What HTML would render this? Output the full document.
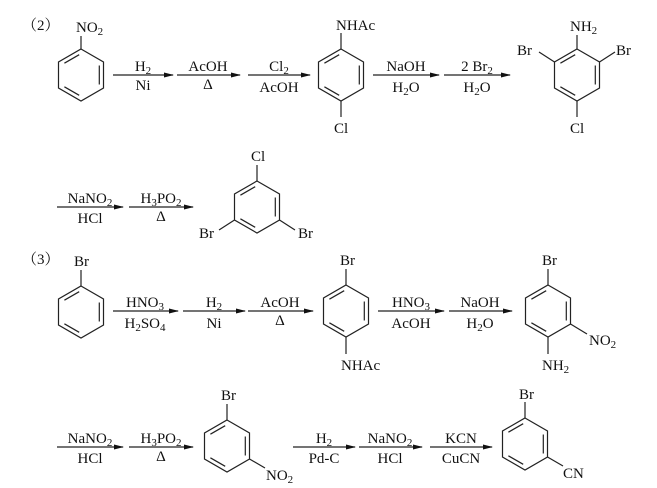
<!DOCTYPE html>
<html><head><meta charset="utf-8"><style>
html,body{margin:0;padding:0;background:#fff;}
svg{display:block;}
svg text{font-family:"Liberation Serif","Times New Roman",Times,"Noto Serif CJK SC",serif;font-size:15px;fill:#111;}
.c{text-anchor:middle;}
</style></head><body>
<svg width="657" height="488" viewBox="0 0 657 488" xmlns="http://www.w3.org/2000/svg" font-family="Liberation Serif, Times New Roman, serif">
<defs>
<symbol id="bz" overflow="visible">
<g stroke="#222" stroke-width="1.2" fill="none">
<polygon points="0,-26 22.5,-13 22.5,13 0,26 -22.5,13 -22.5,-13"/>
<line x1="18.3" y1="-9.5" x2="18.3" y2="9.5"/>
<line x1="-1.8" y1="20.3" x2="-16.6" y2="11.8"/>
<line x1="-16.6" y1="-11.8" x2="-1.8" y2="-20.3"/>
</g>
</symbol>
<marker id="ah" markerWidth="10" markerHeight="6" refX="9" refY="3" orient="auto" markerUnits="userSpaceOnUse">
<path d="M0,0.5 L10,3 L0,5.5 Z" fill="#111"/>
</marker>
</defs>
<g stroke="#222" stroke-width="1.2" marker-end="url(#ah)">
<line x1="113" y1="75" x2="173" y2="75"/>
<line x1="177" y1="75" x2="240" y2="75"/>
<line x1="248" y1="75" x2="310" y2="75"/>
<line x1="373" y1="75" x2="439" y2="75"/>
<line x1="444" y1="75" x2="510" y2="75"/>
<line x1="57" y1="207" x2="123" y2="207"/>
<line x1="129" y1="207" x2="193" y2="207"/>
<line x1="113" y1="311" x2="178" y2="311"/>
<line x1="183" y1="311" x2="245" y2="311"/>
<line x1="248" y1="311" x2="313" y2="311"/>
<line x1="378" y1="311" x2="444" y2="311"/>
<line x1="449" y1="311" x2="512" y2="311"/>
<line x1="57" y1="447" x2="123" y2="447"/>
<line x1="129" y1="447" x2="193" y2="447"/>
<line x1="293" y1="447" x2="355" y2="447"/>
<line x1="359" y1="447" x2="422" y2="447"/>
<line x1="430" y1="447" x2="492" y2="447"/>
</g>
<use href="#bz" x="81" y="75"/>
<use href="#bz" x="341" y="75"/>
<use href="#bz" x="577" y="75"/>
<use href="#bz" x="257" y="207"/>
<use href="#bz" x="81" y="312"/>
<use href="#bz" x="346" y="311"/>
<use href="#bz" x="548" y="311"/>
<use href="#bz" x="227" y="446"/>
<use href="#bz" x="525" y="444"/>
<g stroke="#222" stroke-width="1.2">
<line x1="81" y1="49" x2="81" y2="36"/>
<line x1="341" y1="49" x2="341" y2="33"/>
<line x1="341" y1="101" x2="341" y2="117"/>
<line x1="577" y1="49" x2="577" y2="35"/>
<line x1="554.5" y1="62" x2="539" y2="52"/>
<line x1="599.5" y1="62" x2="615" y2="52"/>
<line x1="577" y1="101" x2="577" y2="117"/>
<line x1="257" y1="181" x2="257" y2="165"/>
<line x1="234.5" y1="220" x2="219" y2="230"/>
<line x1="279.5" y1="220" x2="295" y2="230"/>
<line x1="81" y1="286" x2="81" y2="270"/>
<line x1="346" y1="285" x2="346" y2="269"/>
<line x1="346" y1="337" x2="346" y2="354"/>
<line x1="548" y1="285" x2="548" y2="269"/>
<line x1="570.5" y1="324" x2="587" y2="334"/>
<line x1="548" y1="337" x2="548" y2="354"/>
<line x1="227" y1="420" x2="227" y2="404"/>
<line x1="249.5" y1="459" x2="265" y2="468"/>
<line x1="525" y1="418" x2="525" y2="402"/>
<line x1="547.5" y1="457" x2="563" y2="466"/>
</g>
<!-- row 1 -->
<text x="22" y="30">（2）</text>
<text x="76" y="32">NO<tspan font-size="11" dy="3">2</tspan></text>
<text class="c" x="143" y="71">H<tspan font-size="11" dy="3">2</tspan></text>
<text class="c" x="143" y="90">Ni</text>
<text class="c" x="208" y="71">AcOH</text>
<text class="c" x="208" y="89">Δ</text>
<text class="c" x="279" y="71">Cl<tspan font-size="11" dy="3">2</tspan></text>
<text class="c" x="279" y="92">AcOH</text>
<text x="336" y="30">NHAc</text>
<text x="334" y="133">Cl</text>
<text class="c" x="406" y="71">NaOH</text>
<text class="c" x="406" y="92">H<tspan font-size="11" dy="3">2</tspan><tspan dy="-3">O</tspan></text>
<text class="c" x="477" y="71">2 Br<tspan font-size="11" dy="3">2</tspan></text>
<text class="c" x="477" y="92">H<tspan font-size="11" dy="3">2</tspan><tspan dy="-3">O</tspan></text>
<text x="570" y="31">NH<tspan font-size="11" dy="3">2</tspan></text>
<text x="517" y="55">Br</text>
<text x="616" y="55">Br</text>
<text x="570" y="133">Cl</text>
<!-- row 2 -->
<text class="c" x="90" y="203">NaNO<tspan font-size="11" dy="3">2</tspan></text>
<text class="c" x="90" y="223">HCl</text>
<text class="c" x="161" y="203">H<tspan font-size="11" dy="3">3</tspan><tspan dy="-3">PO</tspan><tspan font-size="11" dy="3">2</tspan></text>
<text class="c" x="161" y="221">Δ</text>
<text x="251" y="161">Cl</text>
<text x="199" y="238">Br</text>
<text x="298" y="238">Br</text>
<!-- row 3 -->
<text x="22" y="264">（3）</text>
<text x="74" y="266">Br</text>
<text class="c" x="145" y="307">HNO<tspan font-size="11" dy="3">3</tspan></text>
<text class="c" x="145" y="328">H<tspan font-size="11" dy="3">2</tspan><tspan dy="-3">SO</tspan><tspan font-size="11" dy="3">4</tspan></text>
<text class="c" x="214" y="307">H<tspan font-size="11" dy="3">2</tspan></text>
<text class="c" x="214" y="328">Ni</text>
<text class="c" x="280" y="307">AcOH</text>
<text class="c" x="280" y="325">Δ</text>
<text x="340" y="265">Br</text>
<text x="341" y="370">NHAc</text>
<text class="c" x="411" y="307">HNO<tspan font-size="11" dy="3">3</tspan></text>
<text class="c" x="411" y="328">AcOH</text>
<text class="c" x="480" y="307">NaOH</text>
<text class="c" x="480" y="328">H<tspan font-size="11" dy="3">2</tspan><tspan dy="-3">O</tspan></text>
<text x="542" y="265">Br</text>
<text x="589" y="345">NO<tspan font-size="11" dy="3">2</tspan></text>
<text x="542" y="370">NH<tspan font-size="11" dy="3">2</tspan></text>
<!-- row 4 -->
<text class="c" x="90" y="443">NaNO<tspan font-size="11" dy="3">2</tspan></text>
<text class="c" x="90" y="463">HCl</text>
<text class="c" x="161" y="443">H<tspan font-size="11" dy="3">3</tspan><tspan dy="-3">PO</tspan><tspan font-size="11" dy="3">2</tspan></text>
<text class="c" x="161" y="461">Δ</text>
<text x="221" y="400">Br</text>
<text x="266" y="480">NO<tspan font-size="11" dy="3">2</tspan></text>
<text class="c" x="324" y="443">H<tspan font-size="11" dy="3">2</tspan></text>
<text class="c" x="324" y="463">Pd-C</text>
<text class="c" x="390" y="443">NaNO<tspan font-size="11" dy="3">2</tspan></text>
<text class="c" x="390" y="463">HCl</text>
<text class="c" x="461" y="443">KCN</text>
<text class="c" x="461" y="463">CuCN</text>
<text x="519" y="399">Br</text>
<text x="563" y="478">CN</text>
</svg>
</body></html>
